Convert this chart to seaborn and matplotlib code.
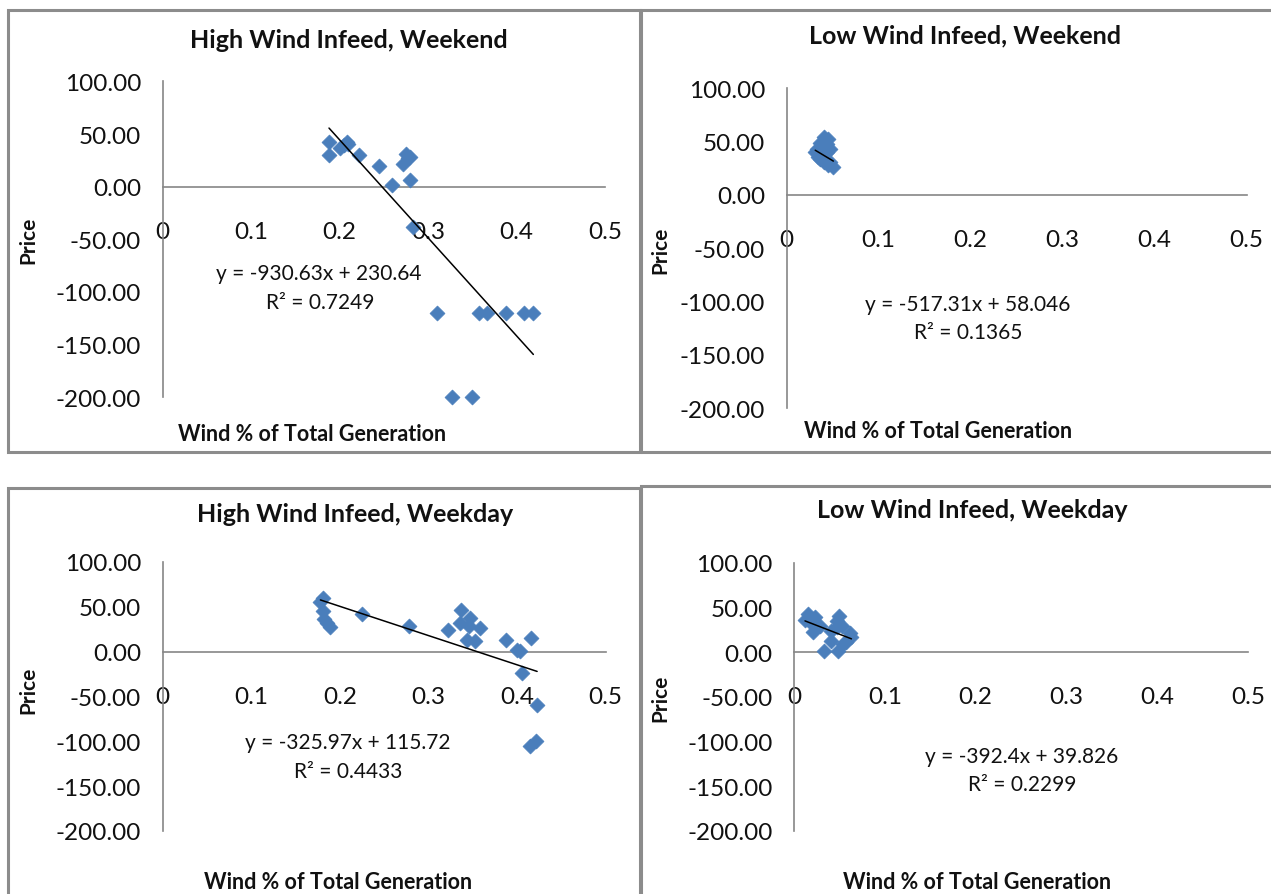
import numpy as np
import pandas as pd
import matplotlib
matplotlib.use("Agg")
import matplotlib.pyplot as plt
from matplotlib.patches import Rectangle
import seaborn as sns

# ---------------- data ----------------
titles = ["High Wind Infeed, Weekend", "Low Wind Infeed, Weekend",
          "High Wind Infeed, Weekday", "Low Wind Infeed, Weekday"]

hw_we_x = [0.188, 0.188, 0.200, 0.205, 0.208, 0.210, 0.222, 0.244, 0.259, 0.272,
           0.275, 0.277, 0.279, 0.280, 0.283, 0.310, 0.358, 0.367, 0.388, 0.408,
           0.419, 0.327, 0.350]
hw_we_y = [42, 30, 37, 40, 42, 41, 30, 20, 2, 22,
           31, 27, 28, 6, -38, -120, -120, -120, -120, -120,
           -120, -200, -200]

lw_we_x = [0.040, 0.045, 0.036, 0.0435, 0.0326, 0.031, 0.038, 0.0435, 0.047, 0.036,
           0.0416, 0.047, 0.0507, 0.0453, 0.040, 0.034]
lw_we_y = [54, 52.5, 49, 48, 43, 40, 38.5, 40, 43, 34,
           32, 30.7, 26, 28, 31, 36]

hw_wd_x = [0.181, 0.178, 0.1805, 0.182, 0.185, 0.1887, 0.2244, 0.2778, 0.322, 0.3372,
           0.336, 0.347, 0.346, 0.343, 0.352, 0.3586, 0.387, 0.400, 0.403, 0.416,
           0.406, 0.4226, 0.414, 0.4218]
hw_wd_y = [60, 55, 45, 36, 32, 27.5, 42, 28.5, 24, 46,
           32, 37, 28.5, 13, 12, 26, 13, 2, 0.5, 15.5,
           -24, -59, -105, -100]

lw_wd_x = [0.0154, 0.0118, 0.0228, 0.019, 0.021, 0.0283, 0.033, 0.040, 0.041, 0.0467,
           0.0496, 0.047, 0.0485, 0.0522, 0.054, 0.0614, 0.063, 0.057]
lw_wd_y = [43, 36.6, 39, 32, 23, 30, 2, 24, 13, 35,
           41, 28, 2, 30, 9, 22, 17, 12]

slopes = [-930.63, -517.31, -325.97, -392.4]
intercepts = [230.64, 58.046, 115.72, 39.826]
eq_texts = ["y = -930.63x + 230.64", "y = -517.31x + 58.046",
            "y = -325.97x + 115.72", "y = -392.4x + 39.826"]
r2_texts = ["R² = 0.7249", "R² = 0.1365", "R² = 0.4433", "R² = 0.2299"]

x_ticks = [0, 0.1, 0.2, 0.3, 0.4, 0.5]
x_tick_labels = ["0", "0.1", "0.2", "0.3", "0.4", "0.5"]
y_ticks = [100, 50, 0, -50, -100, -150, -200]
x_label = "Wind % of Total Generation"
y_label = "Price"

series = [(hw_we_x, hw_we_y), (lw_we_x, lw_we_y), (hw_wd_x, hw_wd_y), (lw_wd_x, lw_wd_y)]

# ---------------- style ----------------
sns.set_style("white")
FAM = ["Lato", "DejaVu Sans"]
plt.rcParams["font.family"] = FAM

W, H = 1271, 895
fig = plt.figure(figsize=(W / 100, H / 100), dpi=100)

BLUE = "#4A7EBB"
GREY = "#868686"
TXT = "#111111"

# axes boxes in pixels: left, right, top, bottom
boxes = [(162.7, 605.0, 82.4, 398.3),
         (786.7, 1246.7, 89.4, 409.2),
         (162.7, 605.7, 563.0, 832.0),
         (794.3, 1247.8, 564.0, 832.0)]

title_pos = [(349, 41), (965, 36), (355, 515), (972, 511)]
ylab_pos = [(28, 240), (660, 250), (28, 690), (660, 698)]
xlab_pos = [(312, 435), (938, 432), (338, 883), (977, 883)]
eq_pos = [(319, 274), (968, 305), (348, 743), (1022, 757)]
r2_pos = [(320, 303), (968, 333), (348, 772), (1022, 785)]

def fx(px):
    return px / W

def fy(py):
    return 1 - py / H

# panel borders
panels = [(8, 11, 640, 453), (641, 11, 1280, 453), (8, 489, 640, 905), (641, 487, 1280, 905)]
for (l, t, r, b) in panels:
    fig.patches.append(Rectangle((fx(l), fy(b)), fx(r) - fx(l), fy(t) - fy(b),
                                 transform=fig.transFigure, fill=False,
                                 edgecolor="#8c8c8c", linewidth=2.2, zorder=0))

for i, ((xs, ys), (l, r, t, b)) in enumerate(zip(series, boxes)):
    ax = fig.add_axes([fx(l), fy(b), fx(r) - fx(l), fy(t) - fy(b)])
    ax.set_facecolor("none")
    df = pd.DataFrame({"x": xs, "y": ys})
    sns.scatterplot(data=df, x="x", y="y", ax=ax, marker="D", s=58,
                    color=BLUE, edgecolor=BLUE, linewidth=0.5, zorder=3, clip_on=False)
    x0, x1 = min(xs), max(xs)
    tl = pd.DataFrame({"x": [x0, x1],
                       "y": [slopes[i] * x0 + intercepts[i], slopes[i] * x1 + intercepts[i]]})
    sns.lineplot(data=tl, x="x", y="y", ax=ax, color="black", linewidth=1.1, zorder=4)
    ax.set_xlim(0, 0.5)
    ax.set_ylim(-200, 100)
    ax.set_xticks(x_ticks)
    ax.set_xticklabels(x_tick_labels)
    ax.set_yticks(y_ticks)
    ax.set_yticklabels([f"{v:.2f}" for v in y_ticks])
    ax.set_xlabel("")
    ax.set_ylabel("")
    for s in ["top", "right"]:
        ax.spines[s].set_visible(False)
    ax.spines["bottom"].set_position(("data", 0))
    for s in ["left", "bottom"]:
        ax.spines[s].set_color(GREY)
        ax.spines[s].set_linewidth(1.2)
    ax.tick_params(axis="x", direction="out", length=6.5, width=1.0, color=GREY,
                   pad=18, labelsize=17.5, labelcolor=TXT)
    ax.tick_params(axis="y", direction="out", length=4.5, width=1.0, color=GREY,
                   pad=11, labelsize=17.5, labelcolor=TXT)
    ax.grid(False)

    fig.text(fx(title_pos[i][0]), fy(title_pos[i][1]), titles[i], ha="center", va="center",
             fontsize=18, fontweight="bold", color=TXT, family=FAM)
    fig.text(fx(ylab_pos[i][0]), fy(ylab_pos[i][1]), y_label, ha="center", va="center",
             rotation=90, fontsize=15, fontweight="bold", color=TXT, family=FAM)
    fig.text(fx(xlab_pos[i][0]), fy(xlab_pos[i][1]), x_label, ha="center", va="center",
             fontsize=15.5, fontweight="bold", color=TXT, family=FAM)
    fig.text(fx(eq_pos[i][0]), fy(eq_pos[i][1]), eq_texts[i], ha="center", va="center",
             fontsize=15, color=TXT, family=FAM)
    fig.text(fx(r2_pos[i][0]), fy(r2_pos[i][1]), r2_texts[i], ha="center", va="center",
             fontsize=15, color=TXT, family=FAM)

fig.savefig("out.png", dpi=100, facecolor="white")
